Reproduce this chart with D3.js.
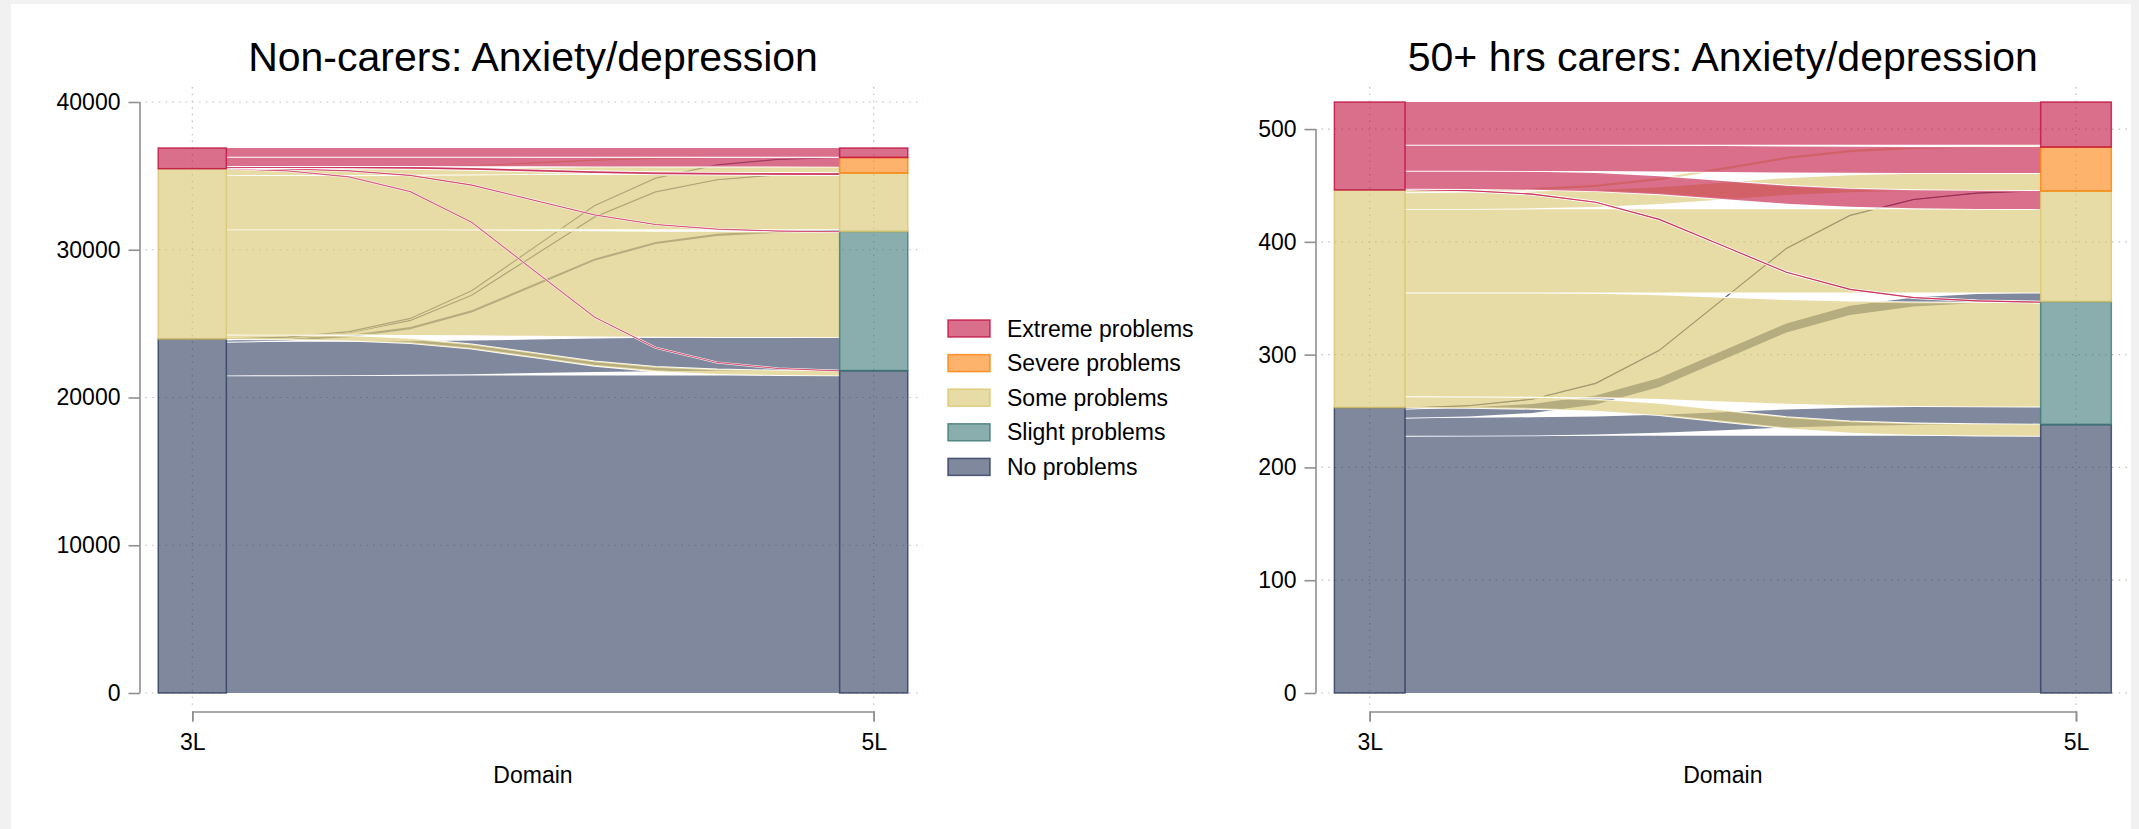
<!DOCTYPE html>
<html lang="en">
  <head>
    <meta charset="UTF-8" />
    <title>Anxiety/depression sankey</title>
    <script src="https://d3js.org/d3.v7.min.js"></script>
    <style>
      body { margin: 0; background: #f1f1f1; }
      text { font-family: "Liberation Sans", Arial, sans-serif; fill: #000; }
    </style>
  </head>
  <body>
    <svg id="chart"></svg>
    <script>
      // categories
      let stages = ["3L", "5L"];
      let levels3 = ["No problems", "Some problems", "Extreme problems"];
      let levels5 = ["No problems", "Slight problems", "Some problems", "Severe problems", "Extreme problems"];
      let legendLabels = ["Extreme problems", "Severe problems", "Some problems", "Slight problems", "No problems"];

      // flows: one array per 3L level, values go to 5L No, Slight, Some, Severe, Extreme
      let nonNo = [21496, 2270, 150, 25, 15];
      let nonSome = [300, 7117, 3677, 411, 25];
      let nonExtreme = [20, 30, 130, 620, 600];

      let carNo = [228, 16, 8, 1, 0];
      let carSome = [10, 92, 74, 15, 2];
      let carExtreme = [0, 1, 16, 23, 38];

      // tick labels
      let nonTicks = [0, 10000, 20000, 30000, 40000];
      let carTicks = [0, 100, 200, 300, 400, 500];

      let colors = {
        "No problems": "rgb(44,57,92)",
        "Slight problems": "rgb(58,120,118)",
        "Some problems": "rgb(217,197,107)",
        "Severe problems": "rgb(251,128,8)",
        "Extreme problems": "rgb(193,15,62)"
      };

      let width = 2139, height = 829;
      let svg = d3.select("#chart").attr("width", width).attr("height", height);

      svg.append("rect").attr("width", width).attr("height", height).attr("fill", "#f1f1f1");
      svg.append("rect").attr("x", 11).attr("y", 4).attr("width", 2120).attr("height", height - 4).attr("fill", "#fff");

      let sig = t => 1 / (1 + Math.exp(-10 * (t - 0.5)));
      let curve = t => (sig(t) - sig(0)) / (sig(1) - sig(0));
      let steps = d3.range(0, 11).map(k => k / 10);
      let hw = 0.05;

      function panel(cfg) {
        let g = svg.append("g");
        let x = d3.scaleLinear().domain([0, 1]).range(cfg.xr);
        let y = d3.scaleLinear().domain([0, cfg.yMax]).range([693, 102]);

        // dotted grid
        let grid = g.append("g").attr("stroke", "#b8b8b8").attr("stroke-width", 1.2)
          .attr("stroke-dasharray", "1.4,5.3");
        grid.selectAll("line.h").data(cfg.ticks).enter().append("line")
          .attr("x1", cfg.plot[0]).attr("x2", cfg.plot[1])
          .attr("y1", d => y(d)).attr("y2", d => y(d));
        grid.selectAll("line.v").data([0, 1]).enter().append("line")
          .attr("x1", d => x(d)).attr("x2", d => x(d))
          .attr("y1", 87).attr("y2", 705);

        // node stacks
        let rows = cfg.rows;
        let srcTot = rows.map(r => d3.sum(r));
        let dstTot = levels5.map((l, j) => d3.sum(rows, r => r[j]));
        let srcStart = d3.cumsum([0].concat(srcTot));
        let dstStart = d3.cumsum([0].concat(dstTot));

        let flows = [];
        let dOff = dstStart.slice();
        let dPos = rows.map(() => []);
        levels5.forEach((l, j) => {
          rows.forEach((r, i) => { dPos[i][j] = dOff[j]; dOff[j] += r[j]; });
        });
        rows.forEach((r, i) => {
          let s = srcStart[i];
          r.forEach((v, j) => {
            if (v > 0) flows.push({ src: levels3[i], s0: s, d0: dPos[i][j], v: v });
            s += v;
          });
        });

        let area = d3.area().x(d => d.x).y0(d => d.y0).y1(d => d.y1).curve(d3.curveLinear);
        let line = d3.line().x(d => d.x).y(d => (d.y0 + d.y1) / 2).curve(d3.curveLinear);
        let xa = x(hw), xb = x(1 - hw);
        let pts = f => steps.map(t => {
          let lo = f.s0 + (f.d0 - f.s0) * curve(t);
          return { x: xa + (xb - xa) * t, y0: y(lo), y1: y(lo + f.v) };
        });

        let fg = g.append("g");
        flows.forEach(f => {
          // white outline sits under each band's fill
          fg.append("path").attr("d", area(pts(f)))
            .attr("fill", colors[f.src]).attr("fill-opacity", 0.6)
            .attr("stroke", "#fff").attr("stroke-width", 1.8)
            .style("paint-order", "stroke fill");
          // hairline flows still read as a coloured line
          if (y(0) - y(f.v) < 2) {
            fg.append("path").attr("d", line(pts(f)))
              .attr("fill", "none").attr("stroke", colors[f.src])
              .attr("stroke-opacity", 0.6).attr("stroke-width", 1.2);
          }
        });

        let nodes = levels3.map((l, i) => ({ lv: l, st: 0, a: srcStart[i], b: srcStart[i + 1] }))
          .concat(levels5.map((l, j) => ({ lv: l, st: 1, a: dstStart[j], b: dstStart[j + 1] })));

        g.append("g").selectAll("rect").data(nodes).enter().append("rect")
          .attr("x", d => x(d.st - hw)).attr("width", d => x(d.st + hw) - x(d.st - hw))
          .attr("y", d => y(d.b)).attr("height", d => y(d.a) - y(d.b))
          .attr("fill", d => colors[d.lv]).attr("fill-opacity", 0.6)
          .attr("stroke", d => colors[d.lv]).attr("stroke-opacity", 0.8).attr("stroke-width", 1.5);

        // y axis
        let ax0 = cfg.plot[0] - 5.5;
        let ya = g.append("g").attr("transform", "translate(" + ax0 + ",0)")
          .call(d3.axisLeft(y).tickValues(cfg.ticks).tickFormat(d3.format("d")).tickSize(11.5).tickPadding(8));
        ya.select(".domain").remove();
        ya.append("line").attr("y1", y(0)).attr("y2", y(d3.max(cfg.ticks)));
        ya.selectAll("line").attr("stroke", "#8f8f8f").attr("stroke-width", 1.6);
        ya.selectAll("text").style("font-size", "23px").attr("fill", "#000");

        // x axis
        let xaG = g.append("g").attr("transform", "translate(0,711.5)")
          .call(d3.axisBottom(x).tickValues([0, 1]).tickFormat((d, i) => stages[i])
            .tickSize(10).tickSizeOuter(10).tickPadding(12));
        xaG.selectAll("path,line").attr("stroke", "#8f8f8f").attr("stroke-width", 1.6);
        xaG.selectAll("text").style("font-size", "23px").attr("fill", "#000");

        g.append("text").attr("x", x(0.5)).attr("y", 783).attr("text-anchor", "middle")
          .style("font-size", "23px").text("Domain");
        g.append("text").attr("x", x(0.5)).attr("y", 71).attr("text-anchor", "middle")
          .style("font-size", "41px").text(cfg.title);
      }

      panel({
        title: "Non-carers: Anxiety/depression",
        rows: [nonNo, nonSome, nonExtreme],
        ticks: nonTicks,
        yMax: 40000,
        xr: [192.3, 873.7],
        plot: [145.5, 923]
      });

      panel({
        title: "50+ hrs carers: Anxiety/depression",
        rows: [carNo, carSome, carExtreme],
        ticks: carTicks,
        yMax: d3.sum([carNo, carSome, carExtreme], r => d3.sum(r)),
        xr: [1369.7, 2076],
        plot: [1321.5, 2127]
      });

      // legend
      let leg = svg.append("g").attr("transform", "translate(948,328.5)");
      let item = leg.selectAll("g").data(legendLabels).enter().append("g")
        .attr("transform", (d, i) => "translate(0," + i * 34.6 + ")");
      item.append("rect").attr("x", 0).attr("y", -8.5).attr("width", 42).attr("height", 17)
        .attr("fill", d => colors[d]).attr("fill-opacity", 0.6)
        .attr("stroke", d => colors[d]).attr("stroke-opacity", 0.8).attr("stroke-width", 1.5);
      item.append("text").attr("x", 59).attr("dy", "0.35em").style("font-size", "23px").text(d => d);
    </script>
  </body>
</html>
